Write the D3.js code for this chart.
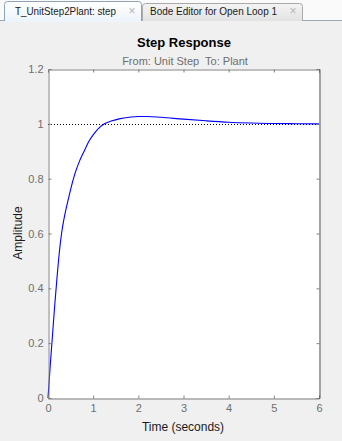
<!doctype html>
<html>
<head>
<script src="https://d3js.org/d3.v7.min.js"></script>
<style>
  body { margin: 0; background: #f0f0f0; font-family: "Liberation Sans", Arial, sans-serif; }
  svg { display: block; }
</style>
</head>
<body>
<script>
// step response samples
var timeVals = [0, 0.05, 0.1, 0.15, 0.2, 0.25, 0.3, 0.35, 0.4, 0.45, 0.5, 0.6, 0.7, 0.8, 0.9, 1.0, 1.1, 1.25, 1.4, 1.6, 1.8, 2.0, 2.2, 2.5, 3.0, 3.5, 4.0, 4.5, 5.0, 5.5, 6.0];
var ampVals  = [0, 0.12, 0.23, 0.34, 0.44, 0.53, 0.6, 0.65, 0.69, 0.725, 0.76, 0.82, 0.865, 0.90, 0.935, 0.96, 0.98, 1.0, 1.01, 1.019, 1.024, 1.027, 1.027, 1.024, 1.017, 1.011, 1.006, 1.003, 1.001, 1.0005, 1.0];
var xTicks = [0, 1, 2, 3, 4, 5, 6];
var yTicks = [0, 0.2, 0.4, 0.6, 0.8, 1, 1.2];
var tabNames = ["T_UnitStep2Plant: step", "Bode Editor for Open Loop 1"];

var W = 342, H = 441;
var svg = d3.select("body").append("svg").attr("width", W).attr("height", H);

// tab strip
var defs = svg.append("defs");
var g1 = defs.append("linearGradient").attr("id", "tabOn").attr("x1", 0).attr("y1", 0).attr("x2", 0).attr("y2", 1);
g1.append("stop").attr("offset", "0%").attr("stop-color", "#ffffff");
g1.append("stop").attr("offset", "100%").attr("stop-color", "#eef4fb");
var g2 = defs.append("linearGradient").attr("id", "tabOff").attr("x1", 0).attr("y1", 0).attr("x2", 0).attr("y2", 1);
g2.append("stop").attr("offset", "0%").attr("stop-color", "#f4f4f4");
g2.append("stop").attr("offset", "100%").attr("stop-color", "#e2e2e2");

svg.append("rect").attr("x", 0).attr("y", 0).attr("width", W).attr("height", 21).attr("fill", "#fafafa");
svg.append("line").attr("x1", 0).attr("x2", W).attr("y1", 20.5).attr("y2", 20.5).attr("stroke", "#9aa7b5");

var tabs = [{x: 4, w: 138, y: 1, on: true, tx: 15, tw: 101, cx: 132}, {x: 142, w: 161, y: 3, on: false, tx: 150, tw: 127, cx: 293}];
tabs.forEach(function(t, i) {
  svg.append("path")
    .attr("d", "M" + (t.x + 0.5) + ",21 V" + (t.y + 3.5) + " Q" + (t.x + 0.5) + "," + (t.y + 0.5) + " " + (t.x + 3.5) + "," + (t.y + 0.5) +
      " H" + (t.x + t.w - 3.5) + " Q" + (t.x + t.w - 0.5) + "," + (t.y + 0.5) + " " + (t.x + t.w - 0.5) + "," + (t.y + 3.5) + " V21")
    .attr("fill", t.on ? "url(#tabOn)" : "url(#tabOff)")
    .attr("stroke", t.on ? "#8ea2b8" : "#a9a9a9");
  svg.append("text").attr("x", t.tx).attr("y", 15)
    .attr("font-size", "11px").attr("fill", "#1a1a1a")
    .attr("textLength", t.tw).attr("lengthAdjust", "spacingAndGlyphs").text(tabNames[i]);
  svg.append("text").attr("x", t.cx).attr("y", 15)
    .attr("font-size", "12px").attr("fill", "#b5b5b5").attr("text-anchor", "middle").text("\u00d7");
});
svg.append("rect").attr("x", 5).attr("y", 19).attr("width", 136).attr("height", 3).attr("fill", "#eef4fb");
svg.append("rect").attr("x", 0).attr("y", 22).attr("width", W).attr("height", H - 22).attr("fill", "#f0f0f0");

// plot area
var pL = 48, pR = 319, pT = 69, pB = 398;
var x = d3.scaleLinear().domain([0, 6]).range([pL, pR]);
var y = d3.scaleLinear().domain([0, 1.2]).range([pB, pT]);

svg.append("rect").attr("x", pL).attr("y", pT).attr("width", pR - pL).attr("height", pB - pT)
  .attr("fill", "#ffffff");

// steady-state reference
svg.append("line").attr("x1", x(0)).attr("x2", x(6)).attr("y1", Math.round(y(1)) + 0.5).attr("y2", Math.round(y(1)) + 0.5)
  .attr("stroke", "#000").attr("stroke-width", 1).attr("stroke-dasharray", "1,2");

var pts = timeVals.map(function(t, i) { return [t, ampVals[i]]; });
svg.append("path").datum(pts)
  .attr("fill", "none").attr("stroke", "#0000ff").attr("stroke-width", 1.1)
  .attr("d", d3.line().x(function(d) { return x(d[0]); }).y(function(d) { return y(d[1]); }).curve(d3.curveMonotoneX));

var axCol = "#808080";
var xb = svg.append("g").attr("transform", "translate(0," + (pB + 0.5) + ")")
  .call(d3.axisBottom(x).tickValues(xTicks).tickSize(-3).tickPadding(6).tickFormat(d3.format("d")));
var xt = svg.append("g").attr("transform", "translate(0," + (pT + 0.5) + ")")
  .call(d3.axisTop(x).tickValues(xTicks).tickSize(-3).tickFormat(""));
var yl = svg.append("g").attr("transform", "translate(" + (pL + 0.5) + ",0)")
  .call(d3.axisLeft(y).tickValues(yTicks).tickSize(-3).tickPadding(5).tickFormat(function(d) { return d === 1 || d === 0 ? d : d3.format(".1f")(d); }));
var yr = svg.append("g").attr("transform", "translate(" + (pR + 0.5) + ",0)")
  .call(d3.axisRight(y).tickValues(yTicks).tickSize(-3).tickFormat(""));

[xb, xt, yl, yr].forEach(function(a) {
  a.select(".domain").attr("stroke", axCol);
  a.selectAll(".tick line").attr("stroke", axCol);
  a.selectAll(".tick text").attr("fill", "#6e6e6e").attr("font-size", "11px")
    .attr("font-family", "'Liberation Sans', Arial, sans-serif");
});
yr.select(".domain").attr("stroke", "#555");

// titles
svg.append("text").attr("x", 184).attr("y", 47).attr("text-anchor", "middle")
  .attr("font-size", "13px").attr("font-weight", "bold").attr("fill", "#000").text("Step Response");
svg.append("text").attr("x", 185).attr("y", 65).attr("text-anchor", "middle")
  .attr("font-size", "11px").attr("fill", "#6e6e6e").text("From: Unit Step\u00a0 To: Plant");
svg.append("text").attr("x", 183).attr("y", 431).attr("text-anchor", "middle")
  .attr("font-size", "12px").attr("fill", "#1a1a1a").text("Time (seconds)");
svg.append("text").attr("transform", "translate(22,233) rotate(-90)").attr("text-anchor", "middle")
  .attr("font-size", "12px").attr("fill", "#1a1a1a").text("Amplitude");
</script>
</body>
</html>
